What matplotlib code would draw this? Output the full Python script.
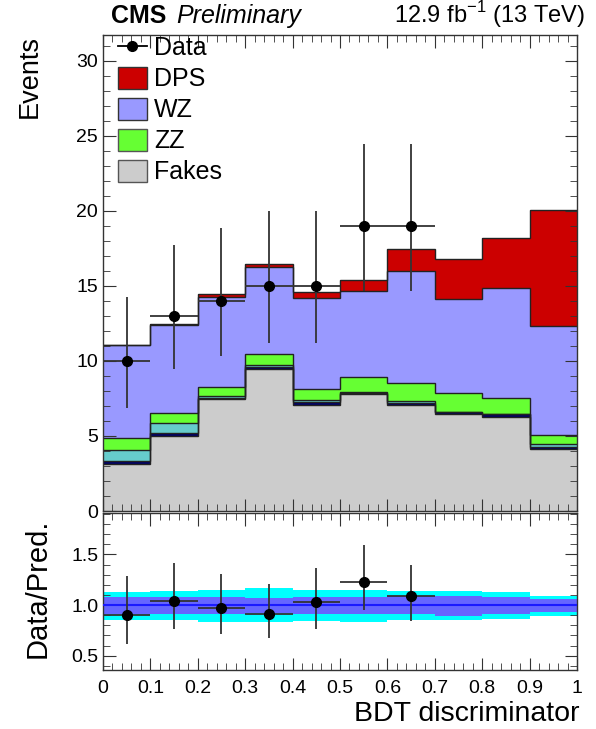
import matplotlib.pyplot as plt
import numpy as np
from matplotlib.ticker import MultipleLocator, FormatStrFormatter
from matplotlib.lines import Line2D
from matplotlib.patches import Patch

plt.rcParams['font.family'] = ['Liberation Sans', 'DejaVu Sans']

# Binning
edges = np.linspace(0, 1, 11)

# Stacked predictions (per bin)
fakes = [3.15, 4.99, 7.43, 9.43, 7.07, 7.76, 7.05, 6.45, 6.28, 4.12]
other_dark = [0.18, 0.22, 0.09, 0.17, 0.18, 0.09, 0.12, 0.13, 0.15, 0.12]
other_teal = [0.73, 0.62, 0.13, 0.11, 0.14, 0.09, 0.15, 0.03, 0.02, 0.22]
zz = [0.77, 0.71, 0.62, 0.74, 0.73, 0.96, 1.18, 1.26, 1.09, 0.57]
wz = [6.22, 5.88, 5.99, 5.81, 6.07, 5.76, 7.51, 6.28, 7.30, 7.28]
dps = [0.03, 0.03, 0.18, 0.22, 0.41, 0.75, 1.42, 2.66, 3.32, 7.76]

# Data (first 7 bins)
data_x = [0.05, 0.15, 0.25, 0.35, 0.45, 0.55, 0.65]
data_y = [10, 13, 14, 15, 15, 19, 19]
data_lo = [6.89, 9.45, 10.30, 11.17, 11.17, 14.67, 14.67]
data_hi = [14.27, 17.71, 18.85, 19.97, 19.97, 24.44, 24.44]

# Ratio panel
ratio_y = [0.90, 1.045, 0.97, 0.91, 1.03, 1.23, 1.09]
ratio_lo = [0.62, 0.76, 0.71, 0.68, 0.765, 0.95, 0.84]
ratio_hi = [1.29, 1.42, 1.305, 1.21, 1.37, 1.59, 1.40]
band_tot_lo = [0.85, 0.85, 0.835, 0.835, 0.845, 0.835, 0.85, 0.85, 0.86, 0.895]
band_tot_hi = [1.125, 1.14, 1.15, 1.165, 1.15, 1.15, 1.14, 1.14, 1.125, 1.092]
band_in_lo = [0.91, 0.91, 0.915, 0.92, 0.915, 0.91, 0.91, 0.895, 0.91, 0.93]
band_in_hi = [1.075, 1.075, 1.075, 1.07, 1.075, 1.082, 1.092, 1.092, 1.082, 1.06]

fig = plt.figure(figsize=(5.96, 7.29), dpi=100)
ax = fig.add_axes([0.1728, 0.299, 0.7953, 0.653])
rax = fig.add_axes([0.1728, 0.081, 0.7953, 0.2155])

layers = [('Fakes', fakes, '#cccccc'),
          (None, other_dark, '#000066'),
          (None, other_teal, '#66cccc'),
          ('ZZ', zz, '#66ff33'),
          ('WZ', wz, '#9999ff'),
          ('DPS', dps, '#cc0000')]

cum = np.cumsum([np.array(v) for _, v, _ in layers], axis=0)
# draw from top layer down, like a THStack
for i in range(len(layers) - 1, -1, -1):
    ax.stairs(cum[i], edges, baseline=0, fill=True, color=layers[i][2], zorder=1)
    ax.stairs(cum[i], edges, baseline=None, color='#222222', lw=1.0, zorder=2)

yerr = [np.array(data_y) - np.array(data_lo), np.array(data_hi) - np.array(data_y)]
ax.errorbar(data_x, data_y, yerr=yerr, xerr=0.05, fmt='o', color='black', ms=7,
            ecolor='#333333', elinewidth=1.3, capsize=0, zorder=5)

ax.set_xlim(0, 1)
ax.set_ylim(0, 31.7)
ax.set_ylabel('Events', fontsize=19.5, loc='top')
ax.yaxis.set_label_coords(-0.127, 1.0)
ax.yaxis.set_major_locator(MultipleLocator(5))
ax.yaxis.set_minor_locator(MultipleLocator(1))
ax.xaxis.set_major_locator(MultipleLocator(0.1))
ax.xaxis.set_minor_locator(MultipleLocator(0.02))
ax.tick_params(axis='x', labelbottom=False)

handles = [Line2D([0], [0], marker='o', color='black', ms=7, lw=1.3),
           Patch(facecolor='#cc0000', edgecolor='#333333'),
           Patch(facecolor='#9999ff', edgecolor='#333333'),
           Patch(facecolor='#66ff33', edgecolor='#555555'),
           Patch(facecolor='#cccccc', edgecolor='#555555')]
ax.legend(handles, ['Data', 'DPS', 'WZ', 'ZZ', 'Fakes'], loc='upper left',
          bbox_to_anchor=(0.0, 1.03), frameon=False, fontsize=18,
          handlelength=1.15, handleheight=1.0, handletextpad=0.3,
          labelspacing=0.25, borderaxespad=0.2)

# ratio bands
rax.stairs(band_tot_hi, edges, baseline=band_tot_lo, fill=True, color='#00ffff', zorder=1)
rax.stairs(band_in_hi, edges, baseline=band_in_lo, fill=True, color='#6666ff', zorder=2)
rax.axhline(1.0, color='#1a1aff', lw=1.5, zorder=3)
rerr = [np.array(ratio_y) - np.array(ratio_lo), np.array(ratio_hi) - np.array(ratio_y)]
rax.errorbar(data_x, ratio_y, yerr=rerr, xerr=0.05, fmt='o', color='black', ms=7,
             ecolor='#333333', elinewidth=1.3, capsize=0, zorder=5)
rax.set_xlim(0, 1)
rax.set_ylim(0.36, 1.91)
rax.yaxis.set_major_locator(MultipleLocator(0.5))
rax.yaxis.set_minor_locator(MultipleLocator(0.1))
rax.yaxis.set_major_formatter(FormatStrFormatter('%.1f'))
rax.xaxis.set_major_locator(MultipleLocator(0.1))
rax.xaxis.set_minor_locator(MultipleLocator(0.02))
rax.xaxis.set_major_formatter(FormatStrFormatter('%g'))
rax.set_ylabel('Data/Pred.', fontsize=21)
rax.yaxis.set_label_coords(-0.108, 0.52)
rax.set_xlabel('BDT discriminator', fontsize=20.5, loc='right')
rax.xaxis.set_label_coords(1.005, -0.195)

for a in (ax, rax):
    a.tick_params(which='both', direction='in', top=True, right=True,
                  labelsize=14, color='#333333')
    a.tick_params(which='major', length=9)
    a.tick_params(which='minor', length=5)
    for s in a.spines.values():
        s.set_color('#333333')
        s.set_linewidth(1.0)
rax.tick_params(axis='x', pad=7)

fig.text(0.186, 0.968, 'CMS', fontsize=18, fontweight='bold', va='baseline')
fig.text(0.295, 0.968, 'Preliminary', fontsize=18, style='italic', va='baseline')
fig.text(0.982, 0.968, r'12.9 fb$^{\mathregular{-1}}$ (13 TeV)', fontsize=17,
         ha='right', va='baseline')

fig.savefig('out.png', dpi=100)
